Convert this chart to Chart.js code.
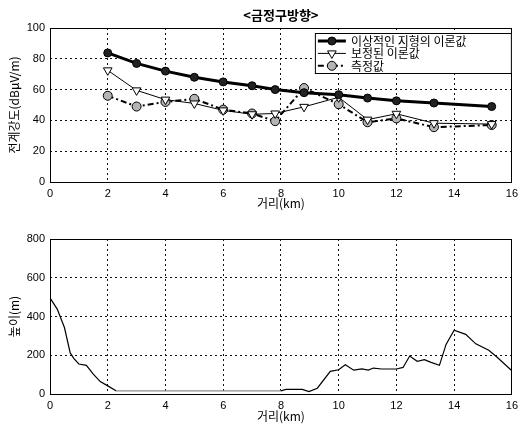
<!DOCTYPE html>
<html><head><meta charset="utf-8">
<script src="https://cdn.jsdelivr.net/npm/chart.js@4.4.1/dist/chart.umd.min.js"></script>
<style>
html,body{margin:0;padding:0;background:#fff;}
#wrap{position:relative;width:523px;height:426px;background:#fff;}
canvas{position:absolute;left:0;}
</style></head><body>
<div id="wrap">
<canvas id="c1" width="523" height="213" style="top:0;width:523px;height:213px"></canvas>
<canvas id="c2" width="523" height="213" style="top:213px;width:523px;height:213px"></canvas>
</div>
<script>
// ---- data ----
const chartTitle = '<금정구방향>';
const seriesNames = ['이상적인 지형의 이론값', '보정된 이론값', '측정값'];
const distanceKm = [2, 3, 4, 5, 6, 7, 7.8, 8.8, 10, 11, 12, 13.3, 15.3];
const idealTheory = [83.8, 77, 72, 68, 65, 62.5, 60, 58, 56.7, 54.5, 52.7, 51.3, 49];
const correctedTheory = [72.5, 59.5, 53.5, 51, 46.5, 44, 44.5, 48.8, 55, 40.5, 44.3, 38.2, 37.6];
const measured = [56, 49, 52, 54, 47, 44.5, 39.5, 61, 50.5, 38.8, 41.3, 35.6, 37];
const profileKm = [0, 0.25, 0.5, 0.7, 0.83, 1.0, 1.26, 1.5, 1.74, 2.0, 2.3, 8.0, 8.17, 8.74, 8.97, 9.26, 9.71, 10.0, 10.23, 10.52, 10.8, 11.03, 11.2, 11.49, 12.0, 12.23, 12.46, 12.72, 12.97, 13.2, 13.49, 13.72, 14.0, 14.4, 14.75, 15.2, 15.49, 16.0];
const profileHeight = [496, 438, 343, 212, 183, 155, 148, 103, 64, 42, 16, 16, 24, 24, 12, 30, 117, 125, 151, 123, 130, 123, 134, 129, 129, 137, 196, 169, 177, 163, 148, 256, 329, 308, 259, 226, 190, 120];
const distanceTicks = [0, 2, 4, 6, 8, 10, 12, 14, 16];
const fieldTicks = [0, 20, 40, 60, 80, 100];
const heightTicks = [0, 200, 400, 600, 800];
const xTitle = '거리(km)';
const fieldTitle = '전계강도(dBμV/m)';
const heightTitle = '높이(m)';

// ---- helpers ----
const KR = '"Noto Sans CJK KR", "Noto Sans", sans-serif';
const NUM = '"Liberation Sans", Arial, sans-serif';
const pairs = (xs, ys) => xs.map((x, i) => ({x, y: ys[i]}));

const boxPlugin = {
  id: 'box',
  beforeDatasetsDraw(chart) {
    const {ctx, chartArea: a} = chart;
    ctx.save();
    ctx.strokeStyle = '#000';
    ctx.lineWidth = 1;
    ctx.setLineDash([]);
    ctx.strokeRect(Math.round(a.left) + 0.5, Math.round(a.top) + 0.5, Math.round(a.right - a.left) - 1, Math.round(a.bottom - a.top));
    ctx.restore();
  }
};

const boxLegend = {
  id: 'boxLegend',
  afterDatasetsDraw(chart, args, opts) {
    if (!opts || !opts.show) return;
    const {ctx, chartArea: a} = chart;
    const w = opts.width, h = opts.height;
    const left = a.right - w, top = a.top + opts.offsetTop;
    ctx.save();
    ctx.fillStyle = '#fff';
    ctx.fillRect(left, top, w, h);
    ctx.strokeStyle = '#000';
    ctx.lineWidth = 1;
    ctx.setLineDash([]);
    ctx.strokeRect(left + 0.5, top + 0.5, w - 1, h);
    chart.data.datasets.forEach((ds, i) => {
      const y = top + 8 + i * 12.4;
      ctx.save();
      ctx.strokeStyle = ds.borderColor;
      ctx.lineWidth = ds.borderWidth;
      ctx.setLineDash(ds.borderDash || []);
      ctx.beginPath();
      ctx.moveTo(left + 3, y);
      ctx.lineTo(left + 31, y);
      ctx.stroke();
      ctx.setLineDash([]);
      ctx.fillStyle = ds.pointBackgroundColor;
      ctx.strokeStyle = ds.pointBorderColor;
      ctx.lineWidth = ds.pointBorderWidth;
      Chart.helpers.drawPoint(ctx, {pointStyle: ds.pointStyle, rotation: ds.pointRotation || 0, radius: ds.pointRadius, borderWidth: ds.pointBorderWidth}, left + 17, y);
      ctx.restore();
      ctx.fillStyle = '#000';
      ctx.font = '12px ' + KR;
      ctx.textBaseline = 'middle';
      ctx.textAlign = 'left';
      ctx.fillText(ds.label, left + 36, y + 0.5);
    });
    ctx.restore();
  }
};

function linearAxis(min, max, ticksArr, titleText, isX, extra) {
  return Object.assign({
    type: 'linear',
    min, max,
    afterBuildTicks: s => { s.ticks = ticksArr.map(v => ({value: v})); },
    grid: {color: '#111', lineWidth: 1, drawTicks: false},
    border: {display: false, dash: [2, 3]},
    ticks: {color: '#000', font: {family: NUM, size: 11}, padding: isX ? 5 : 5, maxRotation: 0, autoSkip: false},
    title: {display: true, text: titleText, color: '#000', font: {family: KR, size: 12}, padding: isX ? {top: 0, bottom: 2} : {top: 7, bottom: 0}}
  }, extra || {});
}

Chart.defaults.animation = false;

// ---- chart 1: field strength ----
new Chart(document.getElementById('c1'), {
  type: 'line',
  data: {
    datasets: [
      {label: seriesNames[0], data: pairs(distanceKm, idealTheory), borderColor: '#000', borderWidth: 3, pointStyle: 'circle', pointRadius: 4, pointBackgroundColor: '#222', pointBorderColor: '#000', pointBorderWidth: 1},
      {label: seriesNames[1], data: pairs(distanceKm, correctedTheory), borderColor: '#000', borderWidth: 1, pointStyle: 'triangle', pointRotation: 180, pointRadius: 5, pointBackgroundColor: '#fff', pointBorderColor: '#000', pointBorderWidth: 1},
      {label: seriesNames[2], data: pairs(distanceKm, measured), borderColor: '#000', borderWidth: 2, borderDash: [6, 3, 2, 3], pointStyle: 'circle', pointRadius: 4.5, pointBackgroundColor: '#b4b4b4', pointBorderColor: '#000', pointBorderWidth: 1}
    ]
  },
  options: {
    responsive: false,
    devicePixelRatio: 1,
    clip: false,
    layout: {padding: {left: 0, right: 6, top: 0, bottom: 0}},
    scales: {
      x: linearAxis(0, 16, distanceTicks, xTitle, true, {afterFit: s => { s.height = 31; }}),
      y: linearAxis(0, 100, fieldTicks, fieldTitle, false, {afterFit: s => { s.width = 50; }})
    },
    plugins: {
      legend: {display: false},
      tooltip: {enabled: false},
      title: {display: true, text: chartTitle, fullSize: false, color: '#000', font: {family: KR, size: 13, weight: 'bold'}, padding: {top: 7, bottom: 5.4}},
      boxLegend: {show: true, width: 197, height: 40, offsetTop: 5}
    }
  },
  plugins: [boxPlugin, boxLegend]
});

// ---- chart 2: terrain profile ----
new Chart(document.getElementById('c2'), {
  type: 'line',
  data: {
    datasets: [
      {label: heightTitle, data: pairs(profileKm, profileHeight), borderColor: '#000', borderWidth: 1.2, pointRadius: 0, tension: 0,
       segment: {borderColor: c => (c.p0.parsed.x >= 2.2 && c.p1.parsed.x <= 8.05) ? '#8c8c8c' : '#000'}}
    ]
  },
  options: {
    responsive: false,
    devicePixelRatio: 1,
    layout: {padding: {left: 0, right: 6, top: 26, bottom: 0}},
    scales: {
      x: linearAxis(0, 16, distanceTicks, xTitle, true, {afterFit: s => { s.height = 32; }}),
      y: linearAxis(0, 800, heightTicks, heightTitle, false, {afterFit: s => { s.width = 50; }})
    },
    plugins: {legend: {display: false}, tooltip: {enabled: false}}
  },
  plugins: [boxPlugin]
});
</script>
</body></html>
